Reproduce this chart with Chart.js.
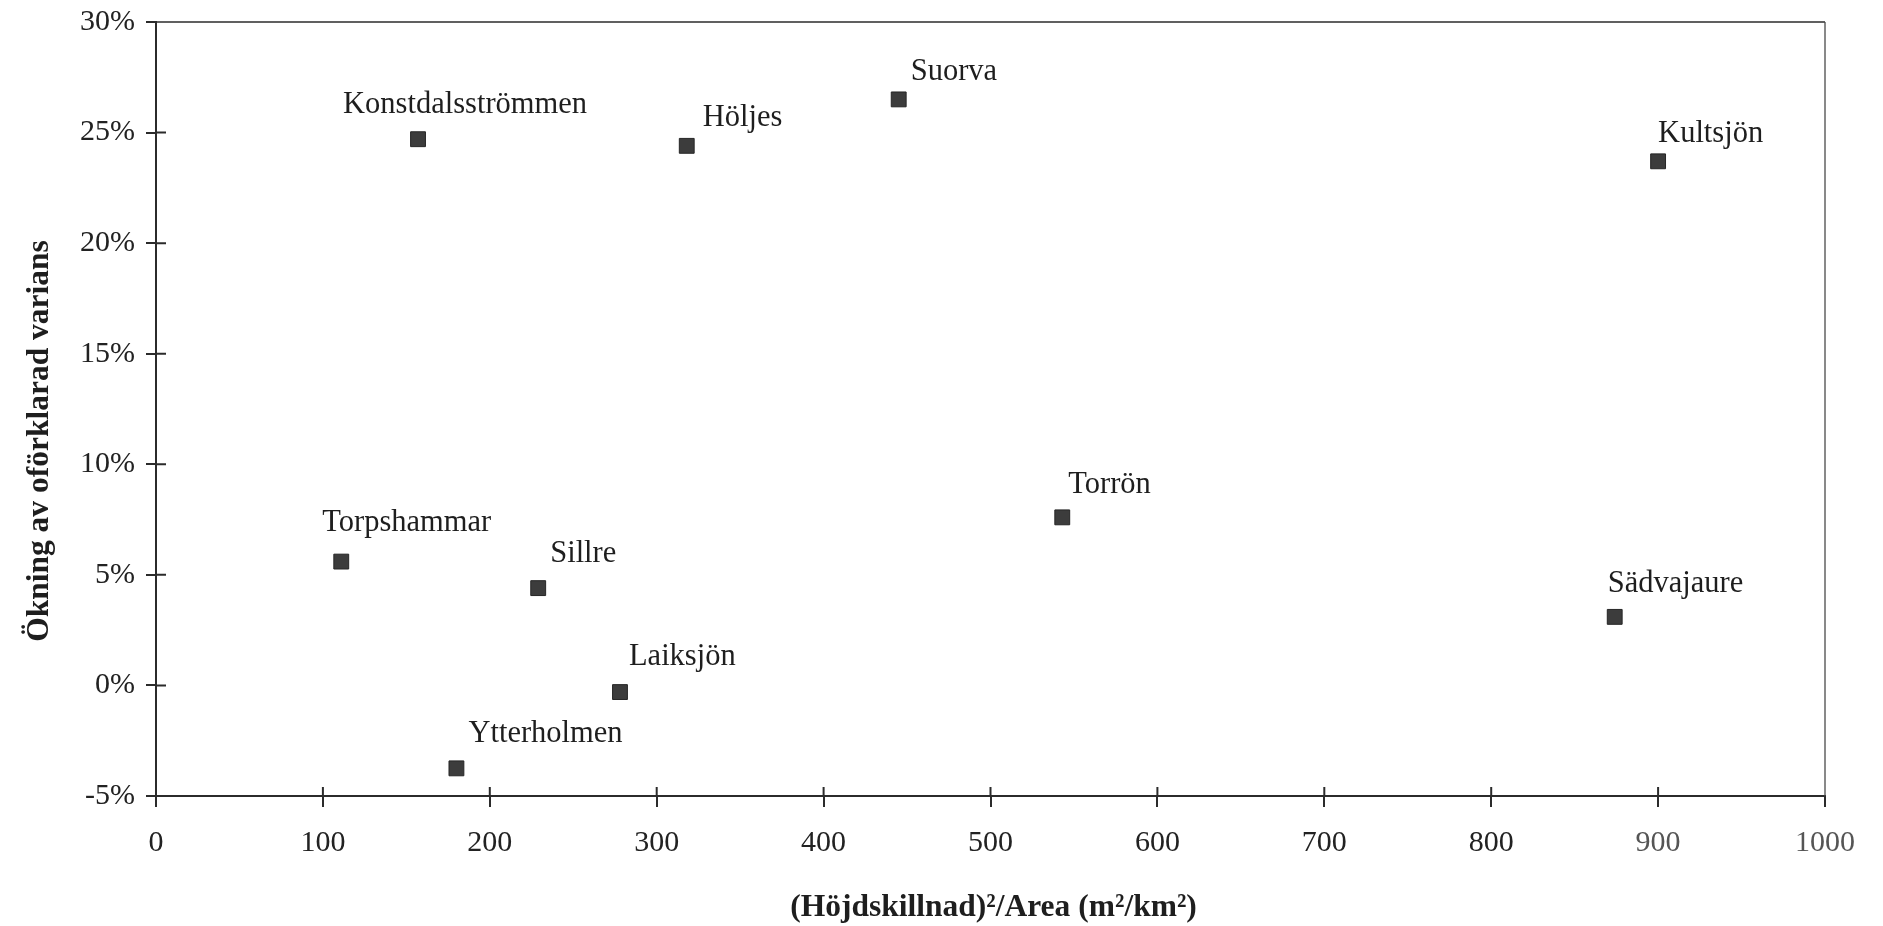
<!DOCTYPE html>
<html>
<head>
<meta charset="utf-8">
<script src="https://cdn.jsdelivr.net/npm/chart.js@4/dist/chart.umd.min.js"></script>
<style>
  html, body { margin: 0; padding: 0; background: #ffffff; }
  #wrap { width: 1883px; height: 926px; }
</style>
</head>
<body>
<div id="wrap"><canvas id="chart" width="1883" height="926"></canvas></div>
<script>
// Stations and their values
const stations = ['Konstdalsströmmen', 'Höljes', 'Suorva', 'Kultsjön', 'Torrön',
                  'Sädvajaure', 'Torpshammar', 'Sillre', 'Laiksjön', 'Ytterholmen'];
// (Höjdskillnad)^2 / Area, m2/km2
const relief = [157, 318, 445, 900, 543, 874, 111, 229, 278, 180];
// Ökning av oförklarad varians, percent
const varianceIncrease = [24.7, 24.4, 26.5, 23.7, 7.6, 3.1, 5.6, 4.4, -0.3, -3.75];

const xTickValues = [0, 100, 200, 300, 400, 500, 600, 700, 800, 900, 1000];
const yTickValues = [-5, 0, 5, 10, 15, 20, 25, 30];

const xTitle = '(Höjdskillnad)²/Area (m²/km²)';
const yTitle = 'Ökning av oförklarad varians';

// Where each station name sits relative to its marker (left edge, vertical middle)
const labelShift = [
  [-75, -34], [16, -28], [12, -27], [0, -27], [6, -32],
  [-7, -33], [-19, -39], [12, -34], [9, -35], [12, -34]
];

const SERIF = '"Liberation Serif", "Times New Roman", serif';
const INK = '#2b2b2b';

const points = relief.map((x, i) => ({ x: x, y: varianceIncrease[i] }));

// Frame around the plot plus ticks that cross the axis lines
const framePlugin = {
  id: 'frame',
  afterDraw(chart) {
    const { ctx, chartArea: a, scales } = chart;
    ctx.save();
    ctx.strokeStyle = INK;
    ctx.lineWidth = 1.6;
    ctx.beginPath();
    ctx.moveTo(a.left, a.top);
    ctx.lineTo(a.right, a.top);
    ctx.stroke();
    ctx.strokeStyle = '#4a4a4a';
    ctx.lineWidth = 1.3;
    ctx.beginPath();
    ctx.moveTo(a.right, a.top);
    ctx.lineTo(a.right, a.bottom);
    ctx.stroke();
    ctx.strokeStyle = INK;
    ctx.lineWidth = 2;
    ctx.beginPath();
    scales.x.ticks.forEach(t => {
      const px = scales.x.getPixelForValue(t.value);
      if (t.value > scales.x.min && t.value < scales.x.max) {
        ctx.moveTo(px, a.bottom);
        ctx.lineTo(px, a.bottom - 9);
      }
    });
    scales.y.ticks.forEach(t => {
      const py = scales.y.getPixelForValue(t.value);
      if (t.value > scales.y.min && t.value < scales.y.max) {
        ctx.moveTo(a.left, py);
        ctx.lineTo(a.left + 10, py);
      }
    });
    ctx.stroke();
    ctx.restore();
  }
};

// Axis titles
const titlePlugin = {
  id: 'axisTitles',
  afterDraw(chart) {
    const { ctx, chartArea: a } = chart;
    ctx.save();
    ctx.font = 'bold 31.5px ' + SERIF;
    ctx.fillStyle = '#1e1e1e';
    ctx.textAlign = 'center';
    ctx.textBaseline = 'middle';
    ctx.fillText(xTitle, (a.left + a.right) / 2 + 3, a.bottom + 112);
    ctx.translate(a.left - 116, (a.top + a.bottom) / 2 + 32);
    ctx.rotate(-Math.PI / 2);
    ctx.fillText(yTitle, 0, 0);
    ctx.restore();
  }
};

// Station names beside the markers
const namePlugin = {
  id: 'names',
  afterDatasetsDraw(chart) {
    const { ctx } = chart;
    const meta = chart.getDatasetMeta(0);
    ctx.save();
    ctx.font = '30.5px ' + SERIF;
    ctx.fillStyle = '#1e1e1e';
    ctx.textAlign = 'left';
    ctx.textBaseline = 'middle';
    meta.data.forEach((pt, i) => {
      const s = labelShift[i];
      ctx.fillText(stations[i], pt.x + s[0], pt.y + s[1]);
    });
    ctx.restore();
  }
};

new Chart(document.getElementById('chart'), {
  type: 'scatter',
  data: {
    datasets: [{
      label: yTitle,
      data: points,
      pointStyle: 'rect',
      pointRadius: 10.5,
      pointHoverRadius: 10.5,
      backgroundColor: '#3c3c3c',
      borderColor: '#262626',
      borderWidth: 1
    }]
  },
  options: {
    responsive: false,
    animation: false,
    events: [],
    layout: { padding: { top: 22, right: 58, bottom: 0, left: 0 } },
    plugins: { legend: { display: false }, tooltip: { enabled: false } },
    scales: {
      x: {
        type: 'linear',
        min: 0,
        max: 1000,
        afterBuildTicks(scale) { scale.ticks = xTickValues.map(v => ({ value: v })); },
        afterFit(scale) {
          scale.height = 130;
          scale.paddingLeft = 0;
          scale.paddingRight = 0;
        },
        border: { display: true, color: INK, width: 2 },
        grid: { drawOnChartArea: false, drawTicks: true, tickLength: 11, color: INK, lineWidth: 2 },
        ticks: {
          font: { family: SERIF, size: 30 },
          color: ctx => (ctx.tick && ctx.tick.value >= 900 ? '#555555' : '#222222'),
          padding: 18,
          maxRotation: 0,
          callback: v => String(v)
        }
      },
      y: {
        type: 'linear',
        min: -5,
        max: 30,
        afterBuildTicks(scale) { scale.ticks = yTickValues.map(v => ({ value: v })); },
        afterFit(scale) {
          scale.width = 156;
          scale.paddingTop = 0;
          scale.paddingBottom = 0;
        },
        border: { display: true, color: INK, width: 2 },
        grid: { drawOnChartArea: false, drawTicks: true, tickLength: 10, color: INK, lineWidth: 2 },
        ticks: {
          font: { family: SERIF, size: 30 },
          color: '#222222',
          padding: 11,
          callback: v => v + '%'
        }
      }
    }
  },
  plugins: [framePlugin, titlePlugin, namePlugin]
});
</script>
</body>
</html>
